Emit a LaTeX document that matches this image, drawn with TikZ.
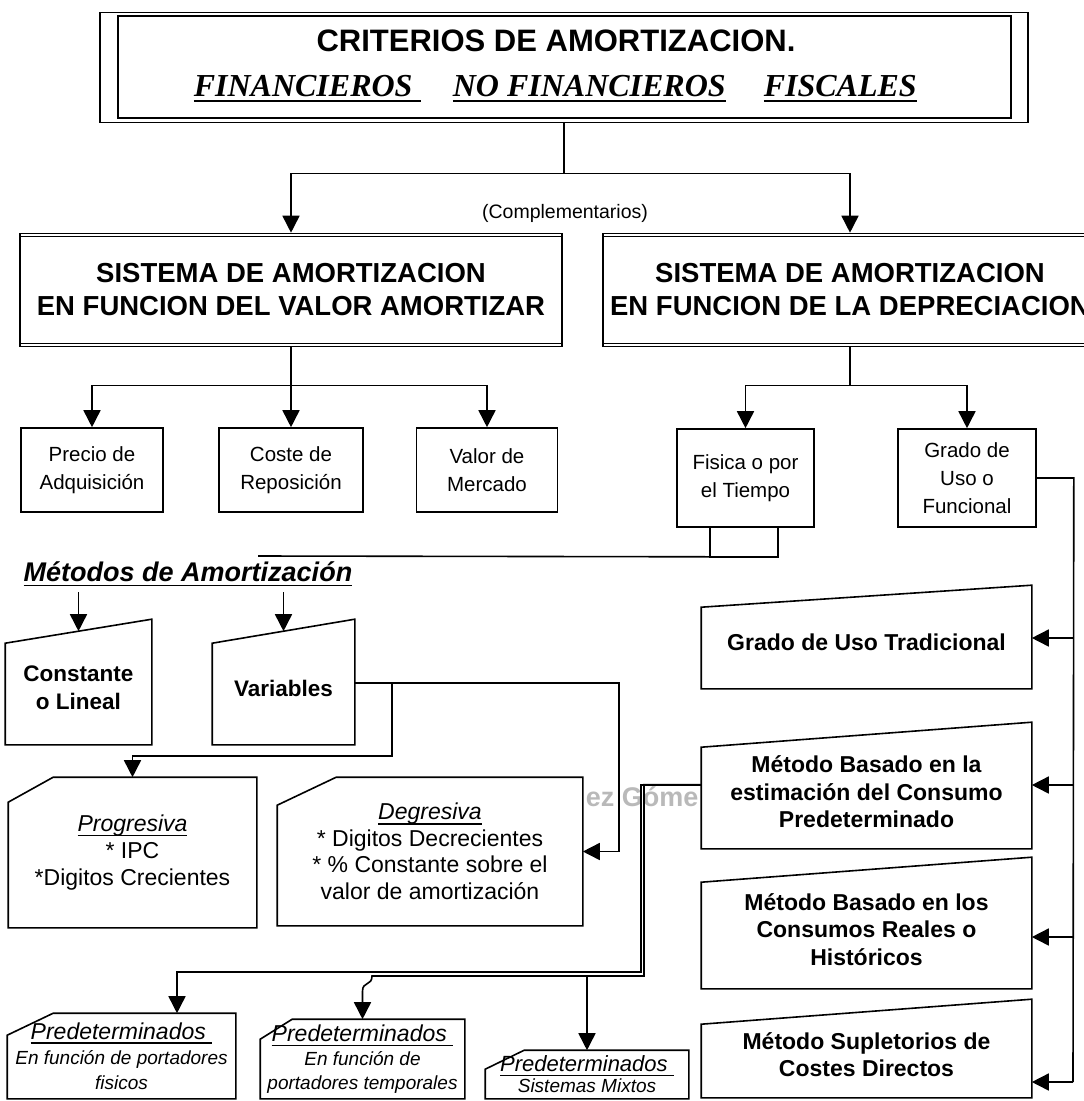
\documentclass[tikz,border=0pt]{standalone}
\usepackage{fontspec}
\setmainfont{Liberation Sans}
\newfontfamily\tnrfont{Liberation Serif}
\usetikzlibrary{arrows.meta,calc}
\newcommand\fsz[2]{\fontsize{#1}{#2}\selectfont}
\newcommand\uln[1]{\setbox0\hbox{#1}\makebox[0pt][l]{\rule[-0.2em]{\wd0}{0.06em}}\box0}
\newcommand\maninput[2]{\draw (#1.south west) -- ([yshift=-#2]#1.north west) -- ([yshift=#2]#1.north east) -- (#1.south east) -- cycle;}
\newcommand\cardshape[3]{\draw ([xshift=#2]#1.north west) -- (#1.north east) -- (#1.south east) -- (#1.south west) -- ([yshift=-#3]#1.north west) -- cycle;}
\begin{document}
\begin{tikzpicture}[x=1pt,y=-1pt,line width=1.6pt,
  arr/.style={-{Triangle[width=17pt,length=17pt]}},
  box/.style={draw,align=center,inner sep=0pt},
  plain/.style={align=center,inner sep=0pt},
  lbl/.style={inner sep=0pt},
  rowbox/.style={box,font=\fsz{20.5}{28}},
  sysbox/.style={box,minimum height=113,font=\bfseries\fsz{27.5}{33}},
  trapb/.style={plain,font=\bfseries\fsz{23}{27.5}}]
\useasboundingbox (0,0) rectangle (1084,1101);
\clip (0,0) rectangle (1084,1101);
% watermark
\node[lbl,anchor=base west,text=gray!55,font=\bfseries\fsz{27}{27}] (wm) at (585,806) {ez Góme};
% top box
\node[box,minimum width=928,minimum height=110] (topo) at (564,67.5) {};
\node[box,minimum width=893,minimum height=102] (top) at (564.5,67) {};
\node[lbl,anchor=base,font=\bfseries\fsz{31}{31}] (t1) at (556,51) {CRITERIOS DE AMORTIZACION.};
\node[lbl,anchor=base west,font=\tnrfont\bfseries\itshape\fsz{32}{32}] (w1) at (193,96) {\uln{FINANCIEROS\ }};
\node[lbl,anchor=base west,font=\tnrfont\bfseries\itshape\fsz{32}{32}] (w2) at (452,96) {\uln{NO FINANCIEROS}};
\node[lbl,anchor=base west,font=\tnrfont\bfseries\itshape\fsz{32}{32}] (w3) at (763,96) {\uln{FISCALES}};
% sistema boxes
\node[sysbox,minimum width=542] (s1) at (291,290) {SISTEMA DE AMORTIZACION\\EN FUNCION DEL VALOR AMORTIZAR};
\node[sysbox,minimum width=494] (s2) at (850,290) {SISTEMA DE AMORTIZACION\\EN FUNCION DE LA DEPRECIACION};
\foreach \n in {s1,s2}{
  \draw[line width=1pt] ([yshift=-3.5pt]\n.north west) -- ([yshift=-3.5pt]\n.north east);
  \draw[line width=1pt] ([yshift=3.5pt]\n.south west) -- ([yshift=3.5pt]\n.south east);}
\node[lbl,font=\fsz{19.5}{22}] (comp) at (565,213) {(Complementarios)};
\draw[arr] (topo.south) -- ++(0,50) -| (s1.north);
\draw[arr] (topo.south) -- ++(0,50) -| (s2.north);
% row 3
\node[rowbox,minimum width=142,minimum height=84] (p1) at (92,470) {Precio de\\Adquisición};
\node[rowbox,minimum width=144,minimum height=84] (p2) at (291,470) {Coste de\\Reposición};
\node[rowbox,minimum width=141,minimum height=84] (p3) at (487,470) {Valor de\\Mercado};
\node[rowbox,minimum width=137,minimum height=98] (f1) at (745.5,478) {Fisica o por\\el Tiempo};
\node[rowbox,minimum width=138,minimum height=98] (g1) at (967,478) {Grado de\\Uso o\\Funcional};
\draw[arr] (s1.south) -- ++(0,38) -| (p1.north);
\draw[arr] (s1.south) -- (p2.north);
\draw[arr] (s1.south) -- ++(0,38) -| (p3.north);
\draw[arr] (s2.south) -- ++(0,38) -| (f1.north);
\draw[arr] (s2.south) -- ++(0,38) -| (g1.north);
% Fisica bracket and Metodos line
\coordinate (fb1) at ($(f1.south)+(-35.5,29)$);
\coordinate (fb2) at ($(f1.south)+(32.5,29)$);
\coordinate (mline) at (258,556);
\draw ([xshift=-35.5pt]f1.south) -- (fb1) -- (fb2) -- ([xshift=32.5pt]f1.south);
\draw (fb1) -- (mline);
\node[lbl,anchor=base,font=\bfseries\itshape\fsz{27}{27}] (met) at (188,581) {\uln{Métodos de Amortización}};
% Constante / Variables
\node[trapb,minimum width=145,minimum height=112,font=\bfseries\fsz{22.5}{28}] (c1) at (78.5,688) {Constante\\o Lineal};
\node[trapb,minimum width=141,minimum height=112,font=\bfseries\fsz{22.5}{28}] (v1) at (283.5,688) {Variables};
\maninput{c1}{12pt}
\maninput{v1}{12pt}
\coordinate (ma1) at (78.5,592);
\coordinate (ma2) at (283.5,592);
\draw[arr] (ma1) -- (c1.north);
\draw[arr] (ma2) -- (v1.north);
% Progresiva / Degresiva
\node[plain,minimum width=247,minimum height=149,font=\fsz{23}{27}] (pg) at (132.5,852.5) {\textit{\uln{Progresiva}}\\{}* IPC\\{}*Digitos Crecientes};
\node[plain,minimum width=304,minimum height=147,font=\fsz{23}{26.5}] (dg) at (430,851.5) {\textit{\uln{Degresiva}}\\{}* Digitos Decrecientes\\{}* \% Constante sobre el\\valor de amortización};
\cardshape{pg}{45pt}{25pt}
\cardshape{dg}{59pt}{28pt}
\coordinate (vd) at ($(dg.east)+(36,0)$);
\coordinate (vb) at (392,683);
\draw[arr] ([yshift=5pt]v1.east) -| (vd) -- (dg.east);
\draw[arr] (vb) |- ($(pg.north)+(0,-21)$) -- (pg.north);
% right column
\node[trapb,minimum width=329,minimum height=91] (r1) at (866.5,642.5) {Grado de Uso Tradicional};
\node[trapb,minimum width=329,minimum height=112.5] (r2) at (866.5,791.75) {Método Basado en la\\estimación del Consumo\\Predeterminado};
\node[trapb,minimum width=329,minimum height=117.5] (r3) at (866.5,929.25) {Método Basado en los\\Consumos Reales o\\Históricos};
\node[trapb,minimum width=329,minimum height=84.5] (r4) at (866.5,1054.75) {Método Supletorios de\\Costes Directos};
\maninput{r1}{11pt}
\maninput{r2}{12.5pt}
\maninput{r3}{12.5pt}
\maninput{r4}{12.5pt}
\coordinate (gtop) at ($(g1.east)+(37,0)$);
\coordinate (gt1) at (1073,638);
\coordinate (gt2) at (1073,785);
\coordinate (gt3) at (1073,937);
\coordinate (gt4) at (1073,1082);
\draw (g1.east) -- (gtop) -- (gt4);
\draw[arr] (gt1) -- (gt1 -| r1.east);
\draw[arr] (gt2) -- (gt2 -| r2.east);
\draw[arr] (gt3) -- (gt3 -| r3.east);
\draw[arr] (gt4) -- (gt4 -| r4.east);
% Predeterminados
\node[plain,minimum width=227,minimum height=84,font=\itshape\fsz{19}{25}] (pd1) at (121.5,1056) {{\fsz{23}{26}\uln{Predeterminados\ }}\\En función de portadores\\fisicos};
\node[plain,minimum width=203,minimum height=78,font=\itshape\fsz{19}{24}] (pd2) at (362.5,1059) {{\fsz{23}{26}\uln{Predeterminados\ }}\\En función de\\portadores temporales};
\node[plain,minimum width=202,minimum height=47,font=\itshape\fsz{19}{21}] (pd3) at (587,1074.5) {{\fsz{22}{24}\uln{Predeterminados\ }}\\Sistemas Mixtos};
\cardshape{pd1}{46pt}{22pt}
\cardshape{pd2}{32pt}{20pt}
\cardshape{pd3}{39pt}{19pt}
\coordinate (bl1) at (641,972);
\coordinate (bl2) at (644,976);
\coordinate (bl3) at (372,976);
\coordinate (bl4) at (587,976);
\draw[arr] ([yshift=7pt]r2.west) -| (bl1) -| ([xshift=55.5pt]pd1.north);
\draw[arr] ([yshift=7pt]r2.west) -| (bl2) -- (bl3) .. controls ($(bl3)+(0,10)$) and ($(pd2.north)+(0,-38)$) .. ($(pd2.north)+(0,-28)$) -- (pd2.north);
\draw[arr] (bl4) -- (pd3.north);
\end{tikzpicture}
\end{document}
